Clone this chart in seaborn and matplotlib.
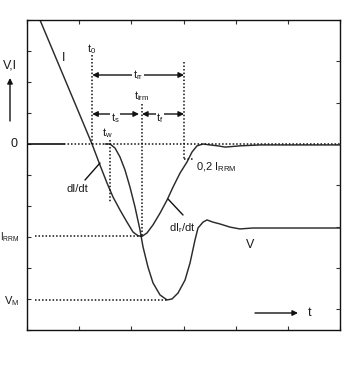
import numpy as np
import pandas as pd
import matplotlib
matplotlib.use("Agg")
import matplotlib.pyplot as plt
import seaborn as sns

# ---- data (x in time-grid units, y in current/voltage units)
i_t = [0.249, 0.748, 1.246, 1.399, 1.534, 1.649, 1.783, 1.917, 2.032, 2.128, 2.204,
       2.300, 2.415, 2.550, 2.684, 2.799, 2.933, 3.067, 3.163, 3.259, 3.374, 3.508,
       3.661, 3.800, 4.080, 4.470, 6.000]
i_val = [4.00, 2.00, 0.00, -0.68, -1.26, -1.71, -2.13, -2.52, -2.84, -2.96, -2.98,
         -2.87, -2.61, -2.23, -1.81, -1.39, -0.94, -0.58, -0.26, -0.06, 0.00, -0.03,
         -0.06, -0.10, -0.06, -0.03, -0.03]

v_t = [1.495, 1.591, 1.687, 1.783, 1.879, 1.974, 2.070, 2.166, 2.224, 2.319, 2.415,
       2.550, 2.684, 2.779, 2.894, 3.029, 3.125, 3.220, 3.278, 3.374, 3.450, 3.565,
       3.700, 3.890, 4.080, 4.330, 4.660, 6.000]
v_val = [0.00, 0.00, -0.13, -0.42, -0.84, -1.39, -2.03, -2.77, -3.32, -3.97, -4.48,
         -4.87, -5.03, -5.00, -4.81, -4.39, -3.84, -3.10, -2.71, -2.52, -2.45, -2.52,
         -2.58, -2.68, -2.74, -2.71, -2.71, -2.71]

t0 = 1.25
t_w = 1.59
t_irm = 2.20
t_end = 3.01
I_RRM = -2.97
V_M = -5.03
I_02 = -0.48

sns.set_theme(style="white")
plt.rcParams["font.family"] = ["Liberation Sans", "DejaVu Sans"]
plt.rcParams["mathtext.fontset"] = "custom"
plt.rcParams["mathtext.rm"] = "Liberation Sans"
plt.rcParams["mathtext.default"] = "regular"

W, H = 361, 375
fig = plt.figure(figsize=(W / 100, H / 100), dpi=100)
ax = fig.add_axes([27 / W, 45 / H, 313 / W, 310 / H])
ax.set_xlim(0, 6)
ax.set_ylim(-6, 4)


def P(px, py):
    return ((px - 27) / 313 * 6, (144 - py) / 31)


lc = "#2b2b2b"
df_i = pd.DataFrame({"t": i_t, "v": i_val})
df_v = pd.DataFrame({"t": v_t, "v": v_val})
sns.lineplot(data=df_i, x="t", y="v", ax=ax, color=lc, lw=1.05, sort=False, estimator=None)
sns.lineplot(data=df_v, x="t", y="v", ax=ax, color=lc, lw=1.05, sort=False, estimator=None)

dot = dict(color="#111111", lw=1.1, ls=(0, (1, 1.3)))
# zero line
ax.plot([0, 0.7], [0, 0], color="#111111", lw=1.2)
ax.plot([0.7, 6], [0, 0], **dot)
# level lines
ax.plot([0.15, t_irm], [I_RRM, I_RRM], **dot)
ax.plot([0.15, 2.70], [V_M, V_M], **dot)
ax.plot([t_end, 3.2], [I_02, I_02], **dot)
# vertical markers
ax.plot([t0, t0], [2.87, 0], **dot)
ax.plot([t_end, t_end], [2.65, I_02], **dot)
ax.plot([t_irm, t_irm], [1.29, I_RRM], **dot)
ax.plot([t_w, t_w], [0.13, -1.9], **dot)

# arrows
ap2 = dict(arrowstyle="<|-|>", color="#111111", lw=1.0, mutation_scale=8, shrinkA=0, shrinkB=0)
ax.annotate("", xy=(t0, P(0, 75)[1]), xytext=(t_end, P(0, 75)[1]), arrowprops=ap2)
ax.annotate("", xy=(t0, P(0, 114)[1]), xytext=(P(139, 0)[0], P(0, 114)[1]), arrowprops=ap2)
ax.annotate("", xy=(P(142, 0)[0], P(0, 114)[1]), xytext=(t_end, P(0, 114)[1]), arrowprops=ap2)
ap1 = dict(arrowstyle="-|>", color="#111111", lw=1.0, mutation_scale=8, shrinkA=0, shrinkB=0)
ax.annotate("", xy=P(298, 313), xytext=P(255, 313), arrowprops=ap1)
ax.annotate("", xy=P(10, 78), xytext=P(10, 121), arrowprops=ap1, annotation_clip=False)

# leader lines
ap0 = dict(arrowstyle="-", color="#111111", lw=1.0, shrinkA=0, shrinkB=0)
ax.annotate("", xy=P(100, 163), xytext=P(85, 180), arrowprops=ap0)
ax.annotate("", xy=P(168, 199), xytext=P(183, 215), arrowprops=ap0)

tc = "#1a1a1a"
fs = 8
box = dict(facecolor="white", edgecolor="none", pad=0.6)


def txt(px, py, s, ha="center", size=fs, bbox=None):
    x, y = P(px, py)
    ax.text(x, y, s, ha=ha, va="center", fontsize=size, color=tc, clip_on=False, bbox=bbox)


txt(10, 66, "V,I", size=9)
txt(18, 144, "0", ha="right", size=9)
txt(20, 237, "I$_{RRM}$", ha="right", size=7)
txt(19, 301, "V$_M$", ha="right")
txt(64, 58, "I", size=9)
txt(92, 49, "t$_0$")
txt(138, 75, "t$_{rr}$", bbox=box)
txt(142, 96, "t$_{irm}$")
txt(115, 118, "t$_s$", bbox=box)
txt(160, 118, "t$_f$", bbox=box)
txt(107, 133, "t$_w$")
txt(77, 189, "dI/dt")
txt(196, 167, "0,2 I$_{RRM}$", ha="left")
txt(182, 228, "dI$_r$/dt")
txt(250, 245, "V", size=9)
txt(310, 313, "t", size=9)

# frame and ticks
for s in ax.spines.values():
    s.set_color("#111111")
    s.set_linewidth(1.0)
ax.set_xticks(np.arange(0, 7, 1))
ax.set_yticks(np.arange(-6, 5, 1))
ax.tick_params(direction="in", length=3, width=0.8, color="#333333",
               bottom=True, top=True, left=True, right=False,
               labelbottom=False, labelleft=False)
ax.set_xlabel("")
ax.set_ylabel("")

ax2 = ax.twinx()
ax2.set_ylim(ax.get_ylim())
ax2.set_yticks([8 / 3, 4 / 3, 0, -4 / 3, -8 / 3, -4, -16 / 3])
ax2.tick_params(direction="in", length=3, width=0.8, color="#333333",
                left=False, right=True, labelright=False, labelleft=False)
for s in ax2.spines.values():
    s.set_visible(False)

fig.savefig("out.png", dpi=100, facecolor="white")
